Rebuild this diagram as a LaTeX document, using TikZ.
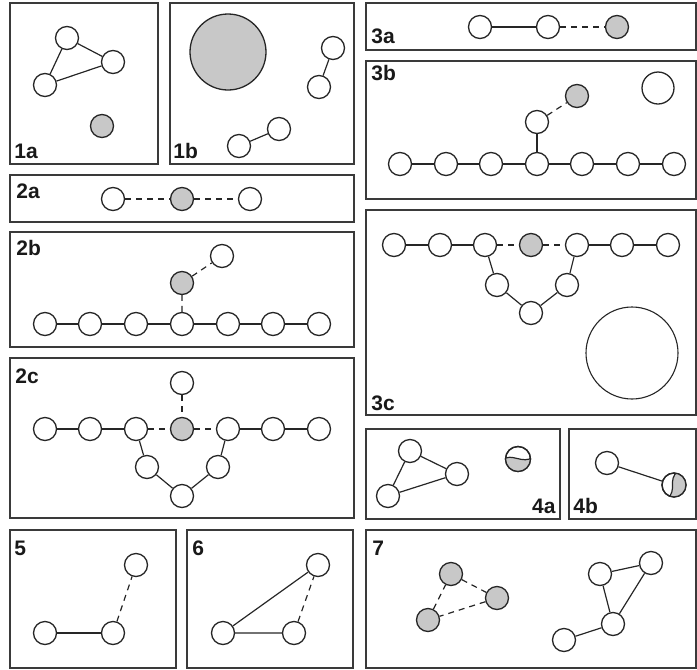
\documentclass[tikz,border=0pt]{standalone}
\usepackage{fontspec}
\setmainfont{Liberation Sans}
\definecolor{grayfill}{HTML}{C8C8C8}
\definecolor{boxc}{HTML}{3A3A3A}
\tikzset{
  vtx/.style={circle, draw=black!85, line width=0.65pt, minimum size=11.5pt, inner sep=0pt, fill=white},
  gvtx/.style={vtx, fill=grayfill},
  panel/.style={draw=boxc, line width=0.8pt},
  lbl/.style={font=\fontsize{10.5}{10.5}\selectfont\bfseries, inner sep=0pt, text=black!90},
  e/.style={line width=0.6pt, draw=black!85},
  de/.style={e, dash pattern=on 3pt off 2.5pt},
}
\begin{document}
\begin{tikzpicture}[x=0.5pt, y=-0.5pt]
\useasboundingbox (0,0) rectangle (697,670);
% panels
\draw[panel] (10,3) rectangle (158,164);
\draw[panel] (170,3) rectangle (354,164);
\draw[panel] (10,175) rectangle (354,222);
\draw[panel] (10,232) rectangle (354,347);
\draw[panel] (10,358) rectangle (354,518);
\draw[panel] (366,3) rectangle (696,50);
\draw[panel] (366,61) rectangle (696,199);
\draw[panel] (366,210) rectangle (696,415);
\draw[panel] (366,429) rectangle (560,519);
\draw[panel] (569,429) rectangle (696,519);
\draw[panel] (10,530) rectangle (176,668);
\draw[panel] (187,530) rectangle (353,668);
\draw[panel] (366,530) rectangle (696,668);
% labels
\node[lbl, anchor=base west] (l1a) at (14,158) {1a};
\node[lbl, anchor=base west] (l1b) at (173,158) {1b};
\node[lbl, anchor=base west] (l2a) at (16,198) {2a};
\node[lbl, anchor=base west] (l2b) at (16,255) {2b};
\node[lbl, anchor=base west] (l2c) at (15,383) {2c};
\node[lbl, anchor=base west] (l3a) at (371,43) {3a};
\node[lbl, anchor=base west] (l3b) at (371,80) {3b};
\node[lbl, anchor=base west] (l3c) at (371,410) {3c};
\node[lbl, anchor=base east] (l4a) at (556,513) {4a};
\node[lbl, anchor=base west] (l4b) at (573,513) {4b};
\node[lbl, anchor=base west] (l5) at (14,555) {5};
\node[lbl, anchor=base west] (l6) at (192,555) {6};
\node[lbl, anchor=base west] (l7) at (372,555) {7};
% 1a
\node[vtx] (a1) at (67,38) {};
\node[vtx] (a2) at (113,62) {};
\node[vtx] (a3) at (45,85) {};
\node[gvtx] (a4) at (102,126) {};
\draw[e] (a1) -- (a2) (a2) -- (a3) (a3) -- (a1);
% 1b
\node[gvtx, minimum size=38pt] (b0) at (228,52) {};
\node[vtx] (b1) at (333,48) {};
\node[vtx] (b2) at (319,87) {};
\node[vtx] (b3) at (279,129) {};
\node[vtx] (b4) at (239,146) {};
\draw[e] (b1) -- (b2) (b3) -- (b4);
% 2a
\node[vtx] (c1) at (113,199) {};
\node[gvtx] (c2) at (182,199) {};
\node[vtx] (c3) at (250,199) {};
\draw[de] (c1) -- (c2) (c2) -- (c3);
% 2b
\foreach \i/\x in {1/45,2/90,3/136,4/182,5/228,6/273,7/319}{\node[vtx] (d\i) at (\x,324) {};}
\draw[e] (d1) -- (d2) -- (d3) -- (d4) -- (d5) -- (d6) -- (d7);
\node[gvtx] (dg) at (182,283) {};
\node[vtx] (dt) at (222,256) {};
\draw[de] (d4) -- (dg) (dg) -- (dt);
% 2c
\foreach \i/\x in {1/45,2/90,3/136,5/228,6/273,7/319}{\node[vtx] (f\i) at (\x,429) {};}
\node[gvtx] (f4) at (182,429) {};
\node[vtx] (ft) at (182,383) {};
\node[vtx] (fl) at (147,467) {};
\node[vtx] (fr) at (218,467) {};
\node[vtx] (fb) at (182,496) {};
\draw[e] (f1) -- (f2) -- (f3) (f5) -- (f6) -- (f7);
\draw[de] (f3) -- (f4) (f4) -- (f5) (ft) -- (f4);
\draw[e] (f3) -- (fl) -- (fb) -- (fr) -- (f5);
% 3a
\node[vtx] (g1) at (480,27) {};
\node[vtx] (g2) at (548,27) {};
\node[gvtx] (g3) at (617,27) {};
\draw[e] (g1) -- (g2);
\draw[de] (g2) -- (g3);
% 3b
\foreach \i/\x in {1/400,2/446,3/491,4/537,5/582,6/628,7/674}{\node[vtx] (h\i) at (\x,164) {};}
\draw[e] (h1) -- (h2) -- (h3) -- (h4) -- (h5) -- (h6) -- (h7);
\node[vtx] (hu) at (537,122) {};
\node[gvtx] (hg) at (577,96) {};
\node[vtx, minimum size=16pt] (hb) at (658,88) {};
\draw[e] (h4) -- (hu);
\draw[de] (hu) -- (hg);
% 3c
\foreach \i/\x in {1/394,2/440,3/485,5/577,6/622,7/668}{\node[vtx] (k\i) at (\x,245) {};}
\node[gvtx] (k4) at (531,245) {};
\node[vtx] (kl) at (497,285) {};
\node[vtx] (kr) at (567,285) {};
\node[vtx] (kb) at (531,313) {};
\node[vtx, minimum size=46pt, line width=0.55pt] (kbig) at (632,353) {};
\draw[e] (k1) -- (k2) -- (k3) (k5) -- (k6) -- (k7);
\draw[de] (k3) -- (k4) (k4) -- (k5);
\draw[e] (k3) -- (kl) -- (kb) -- (kr) -- (k5);
% 4a
\node[vtx] (m1) at (410,451) {};
\node[vtx] (m2) at (457,474) {};
\node[vtx] (m3) at (388,496) {};
\draw[e] (m1) -- (m2) (m2) -- (m3) (m3) -- (m1);
\node[vtx, minimum size=12.5pt] (mh) at (518,459) {};
\begin{scope}
  \clip (mh.center) circle[radius=6.25pt];
  \fill[grayfill] (503,460) .. controls (511,452) and (523,465) .. (533,457) -- (533,475) -- (503,475) -- cycle;
  \draw[e] (503,460) .. controls (511,452) and (523,465) .. (533,457);
\end{scope}
\draw[black!85, line width=0.65pt] (mh.center) circle[radius=6.25pt];
% 4b
\node[vtx] (n1) at (607,463) {};
\node[vtx, minimum size=12pt] (nh) at (674,485) {};
\draw[e] (n1) -- (nh);
\begin{scope}
  \clip (nh.center) circle[radius=6pt];
  \fill[grayfill] (678,471) .. controls (667,480) and (678,490) .. (667,499) -- (690,499) -- (690,471) -- cycle;
  \draw[e] (678,471) .. controls (667,480) and (678,490) .. (667,499);
\end{scope}
\draw[black!85, line width=0.65pt] (nh.center) circle[radius=6pt];
% 5
\node[vtx] (p1) at (45,633) {};
\node[vtx] (p2) at (113,633) {};
\node[vtx] (p3) at (136,565) {};
\draw[e] (p1) -- (p2);
\draw[de] (p2) -- (p3);
% 6
\node[vtx] (q1) at (223,633) {};
\node[vtx] (q2) at (294,633) {};
\node[vtx] (q3) at (318,565) {};
\draw[e] (q1) -- (q2) (q1) -- (q3);
\draw[de] (q2) -- (q3);
% 7
\node[gvtx] (r1) at (451,574) {};
\node[gvtx] (r2) at (497,598) {};
\node[gvtx] (r3) at (428,620) {};
\draw[de] (r1) -- (r2) (r2) -- (r3) (r3) -- (r1);
\node[vtx] (s1) at (600,574) {};
\node[vtx] (s2) at (651,563) {};
\node[vtx] (s3) at (613,624) {};
\node[vtx] (s4) at (564,640) {};
\draw[e] (s1) -- (s2) (s1) -- (s3) (s2) -- (s3) (s3) -- (s4);
\end{tikzpicture}
\end{document}
